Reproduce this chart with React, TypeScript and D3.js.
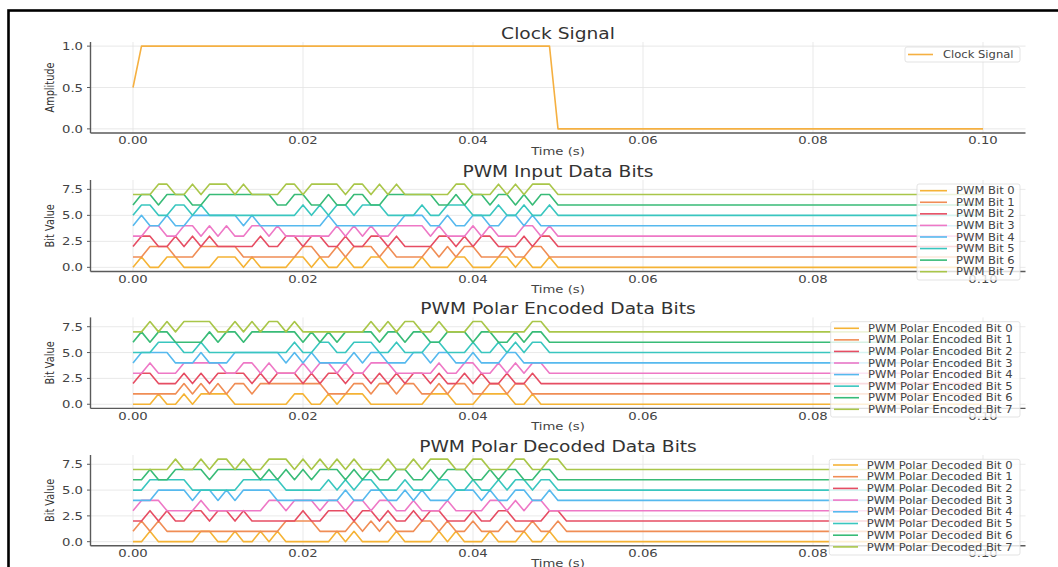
import React, { useEffect } from "react";
import * as d3 from "d3";

// ---- data ----
const clockTimes = [0, 0.001, 0.049, 0.05, 0.1];
const clockValues = [0.5, 1, 1, 0, 0];

const timeStep = 0.001;
const timeEnd = 0.1;
const xTicks = [0, 0.02, 0.04, 0.06, 0.08, 0.1];
const clockTicks = [0, 0.5, 1];
const bitTicks = [0, 2.5, 5, 7.5];

const inputBits = [
  "010011000011101000011010010" + "01100001000110001101001",
  "001110001111100000001100101" + "11010000101011000100110",
  "011001010100000100110110010" + "01101000011010110001011",
  "001100110101001101000000101" + "01001111010001010001101",
  "010010011111101000000001000" + "00000111001001100110100",
  "011001101000000000001010110" + "11100001001110001001001",
  "011011100111111110011001001" + "10011111100101101101011",
  "000110010111010000110111101" + "10101000000110001010111",
];

const encodedBits = [
  "000100101111000000011001011" + "1000000011100011110010",
  "000000101010110111111110001" + "1011011001011001101100",
  "011000101011110101110101101" + "1010101101001010010010",
  "001000111110011010001011010" + "0111000001001100101011",
  "011110001000111111010100001" + "0110001101100100011000",
  "000111001000000000010011001" + "1100100011000100101011",
  "010110000101101111110101011" + "1101101100111011001011",
  "001010111100101011010000000" + "0101011001000110000011",
];

const decodedBits = [
  "001000001100100101000000101" + "000010000101000100010010",
  "010100000000000000111100001" + "010100011010010001001001",
  "001010011011010000001001110" + "110100101100010011000011",
  "011100001000000011011101101" + "101100100010000110101100",
  "000111101101011110000000010" + "011001010001110100110010",
  "001111100000011111000001010" + "110001000110010010110110",
  "001001111011111010101011101" + "010011001011100101100110",
  "000001001011010011101010101" + "000100101110011000110011",
];

const bitColors = ["#f5b335", "#f08d55", "#e64d63", "#ee78c6", "#56b9ee", "#39c6bf", "#38bb77", "#a9c649"];
const clockColor = "#f5b041";

// ---- layout ----
const SX = 1.18; // picture is stretched sideways
const FONT = "DejaVu Sans, sans-serif";
const X_LEFT = 90.5;
const X_RIGHT = 1025.5;

const x = d3.scaleLinear().domain([-0.005, 0.105]).range([X_LEFT, X_RIGHT]);

type Series = { label: string; color: string; pts: [number, number][] };

function bitSeries(bits: string[], prefix: string): Series[] {
  return bits.map((b, i) => {
    const pts: [number, number][] = b.split("").map((c, k) => [k * timeStep, i + +c]);
    pts.push([b.length * timeStep, i], [timeEnd, i]);
    return { label: `${prefix} ${i}`, color: bitColors[i], pts };
  });
}

const panels = [
  {
    title: "Clock Signal", ylabel: "Amplitude", top: 42, bottom: 133,
    yDomain: [-0.05, 1.05], yTicks: clockTicks,
    series: [{ label: "Clock Signal", color: clockColor, pts: clockTimes.map((t, i) => [t, clockValues[i]]) as [number, number][] }],
    legend: { x0: 905, x1: 1020, y0: 47, y1: 62, l0: 908, l1: 933, tx: 943, ry: 54.5, dy: 11.6 },
  },
  {
    title: "PWM Input Data Bits", ylabel: "Bit Value", top: 180, bottom: 271.5,
    yDomain: [-0.4, 8.4], yTicks: bitTicks, series: bitSeries(inputBits, "PWM Bit"),
    legend: { x0: 917, x1: 1020, y0: 184, y1: 280, l0: 920, l1: 947, tx: 956, ry: 190.7, dy: 11.57 },
  },
  {
    title: "PWM Polar Encoded Data Bits", ylabel: "Bit Value", top: 317.4, bottom: 408.4,
    yDomain: [-0.4, 8.4], yTicks: bitTicks, series: bitSeries(encodedBits, "PWM Polar Encoded Bit"),
    legend: { x0: 830.7, x1: 1020, y0: 321.7, y1: 417, l0: 834, l1: 859, tx: 868, ry: 328.3, dy: 11.57 },
  },
  {
    title: "PWM Polar Decoded Data Bits", ylabel: "Bit Value", top: 455, bottom: 545.8,
    yDomain: [-0.4, 8.4], yTicks: bitTicks, series: bitSeries(decodedBits, "PWM Polar Decoded Bit"),
    legend: { x0: 829.3, x1: 1020, y0: 459.3, y1: 555, l0: 833, l1: 858, tx: 866.7, ry: 465, dy: 11.7 },
  },
];

const Txt = ({ x, y, size, anchor = "start", color = "#444", rotate = 0, children }: any) => (
  <text
    transform={`translate(${x},${y}) scale(${SX},1)${rotate ? ` rotate(${rotate})` : ""}`}
    fontSize={size}
    fontFamily={FONT}
    textAnchor={anchor}
    fill={color}
  >
    {children}
  </text>
);

function Panel({ p }: { p: (typeof panels)[number] }) {
  const y = d3.scaleLinear().domain(p.yDomain).range([p.bottom, p.top]);
  const line = d3.line<[number, number]>().x((d) => x(d[0])).y((d) => y(d[1]));
  const lg = p.legend;
  return (
    <g>
      {/* grid */}
      {xTicks.map((t) => (
        <line key={"gx" + t} x1={x(t)} x2={x(t)} y1={p.top} y2={p.bottom} stroke="#e3e3e3" strokeWidth={0.8} />
      ))}
      {p.yTicks.map((t) => (
        <line key={"gy" + t} x1={X_LEFT} x2={X_RIGHT} y1={y(t)} y2={y(t)} stroke="#e3e3e3" strokeWidth={0.8} />
      ))}
      {/* series */}
      {p.series.map((s) => (
        <path key={s.label} d={line(s.pts) || ""} fill="none" stroke={s.color} strokeWidth={1.6} strokeLinejoin="round" />
      ))}
      {/* spines + ticks */}
      <line x1={X_LEFT} x2={X_LEFT} y1={p.top} y2={p.bottom} stroke="#5a5a5a" strokeWidth={1.4} />
      <line x1={X_LEFT} x2={X_RIGHT} y1={p.bottom} y2={p.bottom} stroke="#5a5a5a" strokeWidth={1.4} />
      {p.yTicks.map((t) => (
        <g key={"ty" + t}>
          <line x1={X_LEFT - 3.5} x2={X_LEFT} y1={y(t)} y2={y(t)} stroke="#5a5a5a" strokeWidth={1} />
          <Txt x={83} y={y(t) + 4} size={11.2} anchor="end">{d3.format(".1f")(t)}</Txt>
        </g>
      ))}
      {xTicks.map((t) => (
        <Txt key={"tx" + t} x={x(t)} y={p.bottom + 11.3} size={11.2} anchor="middle">{d3.format(".2f")(t)}</Txt>
      ))}
      <Txt x={(X_LEFT + X_RIGHT) / 2} y={p.bottom + 21.5} size={11.2} anchor="middle">Time (s)</Txt>
      <Txt x={53.5} y={(p.top + p.bottom) / 2} size={9.8} anchor="middle" rotate={-90} color="#333">{p.ylabel}</Txt>
      <Txt x={(X_LEFT + X_RIGHT) / 2} y={p.top - 3} size={15.8} anchor="middle" color="#333">{p.title}</Txt>
      {/* legend */}
      <rect x={lg.x0} y={lg.y0} width={lg.x1 - lg.x0} height={lg.y1 - lg.y0} rx={2} fill="#fff" fillOpacity={0.8} stroke="#dcdcdc" strokeWidth={0.8} />
      {p.series.map((s, i) => (
        <g key={"lg" + s.label}>
          <line x1={lg.l0} x2={lg.l1} y1={lg.ry + i * lg.dy} y2={lg.ry + i * lg.dy} stroke={s.color} strokeWidth={1.6} />
          <Txt x={lg.tx} y={lg.ry + i * lg.dy + 3.6} size={9.8}>{s.label}</Txt>
        </g>
      ))}
    </g>
  );
}

export default function App() {
  useEffect(() => {
    document.body.style.margin = "0";
    document.body.style.overflow = "hidden";
  }, []);
  return (
    <svg width={1058} height={567} style={{ display: "block", background: "#fff" }}>
      <rect x={0} y={0} width={1058} height={567} fill="#fff" />
      {panels.map((p) => (
        <Panel key={p.title} p={p} />
      ))}
      <rect x={8.5} y={10.5} width={1070} height={600} fill="none" stroke="#000" strokeWidth={2.6} />
    </svg>
  );
}
